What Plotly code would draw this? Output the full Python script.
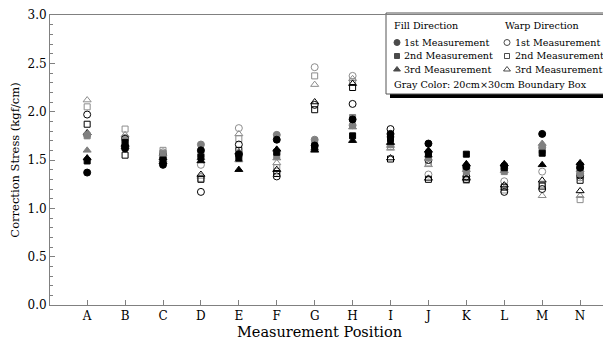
import plotly.graph_objects as go

positions = ["A", "B", "C", "D", "E", "F", "G", "H", "I", "J", "K", "L", "M", "N"]

# Fill direction, black (filled markers)
fill_black_1st = [1.37, 1.62, 1.45, 1.60, 1.56, 1.71, 1.65, 1.92, 1.77, 1.67, 1.43, 1.44, 1.77, 1.42]
fill_black_2nd = [1.49, 1.68, 1.50, 1.53, 1.52, 1.58, 1.63, 1.75, 1.72, 1.56, 1.56, 1.42, 1.57, 1.44]
fill_black_3rd = [1.52, 1.66, 1.48, 1.49, 1.40, 1.61, 1.60, 1.70, 1.68, 1.60, 1.46, 1.46, 1.45, 1.47]
# Fill direction, gray (20cm x 30cm boundary box)
fill_gray_1st = [1.76, 1.64, 1.54, 1.66, 1.57, 1.76, 1.71, 1.86, 1.74, 1.58, 1.41, 1.41, 1.63, 1.36]
fill_gray_2nd = [1.75, 1.70, 1.57, 1.56, 1.56, 1.55, 1.66, 1.94, 1.70, 1.52, 1.38, 1.38, 1.60, 1.38]
fill_gray_3rd = [1.60, 1.67, 1.50, 1.52, 1.50, 1.52, 1.62, 1.84, 1.65, 1.55, 1.40, 1.39, 1.67, 1.40]
# Warp direction, black (open markers)
warp_black_1st = [1.97, 1.72, 1.55, 1.17, 1.66, 1.33, 2.07, 2.08, 1.82, 1.50, 1.33, 1.17, 1.20, 1.34]
warp_black_2nd = [1.87, 1.55, 1.53, 1.30, 1.60, 1.36, 2.02, 2.25, 1.51, 1.30, 1.30, 1.22, 1.23, 1.29]
warp_black_3rd = [1.78, 1.64, 1.52, 1.35, 1.58, 1.40, 2.10, 2.29, 1.52, 1.31, 1.31, 1.24, 1.29, 1.18]
# Warp direction, gray (20cm x 30cm boundary box)
warp_gray_1st = [1.76, 1.73, 1.58, 1.45, 1.83, 1.38, 2.46, 2.37, 1.66, 1.35, 1.30, 1.28, 1.38, 1.32]
warp_gray_2nd = [2.05, 1.82, 1.60, 1.31, 1.72, 1.42, 2.37, 2.31, 1.64, 1.47, 1.29, 1.19, 1.25, 1.09]
warp_gray_3rd = [2.12, 1.76, 1.56, 1.33, 1.77, 1.47, 2.28, 2.34, 1.62, 1.45, 1.32, 1.21, 1.13, 1.13]

BLACK = "#000000"
GRAY = "#808080"
GRAY_LINE = "#8c8c8c"
FONT = "DejaVu Serif"

xidx = list(range(len(positions)))

series = [
    (warp_gray_1st, "circle-open", GRAY_LINE, 7),
    (warp_gray_2nd, "square-open", GRAY_LINE, 6),
    (warp_gray_3rd, "triangle-up-open", GRAY_LINE, 7),
    (warp_black_1st, "circle-open", BLACK, 7),
    (warp_black_2nd, "square-open", BLACK, 6),
    (warp_black_3rd, "triangle-up-open", BLACK, 7),
    (fill_gray_1st, "circle", GRAY, 7),
    (fill_gray_2nd, "square", GRAY, 6),
    (fill_gray_3rd, "triangle-up", GRAY, 7),
    (fill_black_1st, "circle", BLACK, 7),
    (fill_black_2nd, "square", BLACK, 6),
    (fill_black_3rd, "triangle-up", BLACK, 7),
]

fig = go.Figure()
for vals, sym, col, sz in series:
    fig.add_trace(go.Scatter(
        x=xidx, y=vals, mode="markers",
        marker=dict(symbol=sym, color=col, size=sz, line=dict(color=col, width=1)),
        showlegend=False, hoverinfo="skip",
    ))

# Page has an 8px body margin: plot area spans window px x 50..604, y 15..305
def px_x(p):
    return (p - 50) / 554.0

def px_y(p):
    return (305 - p) / 290.0

leg_rows = [42.5, 56.0, 69.5]
leg_labels = ["1st Measurement", "2nd Measurement", "3rd Measurement"]
leg_fill_syms = ["circle", "square", "triangle-up"]
leg_warp_syms = ["circle-open", "square-open", "triangle-up-open"]
leg_sizes = [6, 5, 6]

fig.add_trace(go.Scatter(
    x=[px_x(397)] * 3, y=[px_y(r) for r in leg_rows], xaxis="x2", yaxis="y2",
    mode="markers", cliponaxis=False,
    marker=dict(symbol=leg_fill_syms, color=BLACK, size=leg_sizes, line=dict(color=BLACK, width=1)),
    showlegend=False, hoverinfo="skip",
))
fig.add_trace(go.Scatter(
    x=[px_x(507)] * 3, y=[px_y(r) for r in leg_rows], xaxis="x2", yaxis="y2",
    mode="markers", cliponaxis=False,
    marker=dict(symbol=leg_warp_syms, color=BLACK, size=leg_sizes, line=dict(color=BLACK, width=1)),
    showlegend=False, hoverinfo="skip",
))

shapes = [
    # shadow
    dict(type="rect", xref="paper", yref="paper",
         x0=px_x(390), x1=px_x(609), y0=px_y(98), y1=px_y(17),
         fillcolor="black", line=dict(width=0), layer="below"),
    # box
    dict(type="rect", xref="paper", yref="paper",
         x0=px_x(386), x1=px_x(605), y0=px_y(94), y1=px_y(13),
         fillcolor="white", line=dict(color="#555555", width=1), layer="below"),
]

annots = []
lf = dict(family=FONT, size=9.6, color="black")
annots.append(dict(x=px_x(393), y=px_y(25.5), text="Fill Direction"))
annots.append(dict(x=px_x(504), y=px_y(25.5), text="Warp Direction"))
for r, lab in zip(leg_rows, leg_labels):
    annots.append(dict(x=px_x(403), y=px_y(r), text=lab))
    annots.append(dict(x=px_x(514), y=px_y(r), text=lab))
annots.append(dict(x=px_x(393), y=px_y(84), text="Gray Color: 20cm\u00d730cm Boundary Box"))
for a in annots:
    a.update(xref="paper", yref="paper", xanchor="left", yanchor="middle",
             showarrow=False, font=lf, borderpad=0)
# x axis title
annots.append(dict(x=px_x(319), y=px_y(332), xref="paper", yref="paper",
                   xanchor="center", yanchor="middle", showarrow=False, borderpad=0,
                   text="Measurement Position", font=dict(family=FONT, size=14.5, color="black")))

axis_col = "#808080"
fig.update_layout(
    width=603, height=334,
    margin=dict(l=42, r=7, t=7, b=37),
    paper_bgcolor="white", plot_bgcolor="white",
    font=dict(family=FONT, color="black"),
    xaxis=dict(
        range=[-0.98, 13.63], tickmode="array", tickvals=xidx, ticktext=positions,
        showgrid=False, zeroline=False, showline=True, linecolor=axis_col, linewidth=1,
        mirror=True, ticks="inside", ticklen=5, tickcolor=axis_col, automargin=False,
        tickfont=dict(family=FONT, size=12, color="black"),
    ),
    yaxis=dict(
        range=[0, 3.0], dtick=0.5, tickformat=".1f",
        showgrid=False, zeroline=False, showline=True, linecolor=axis_col, linewidth=1,
        mirror=True, ticks="inside", ticklen=5, tickcolor=axis_col, automargin=False,
        minor=dict(dtick=0.1, ticks="inside", ticklen=3, tickcolor=axis_col),
        tickfont=dict(family=FONT, size=12, color="black"),
        title=dict(text="Correction Stress (kgf/cm)", font=dict(family=FONT, size=11.5, color="black"), standoff=6),
    ),
    xaxis2=dict(domain=[0, 1], range=[0, 1], overlaying="x", anchor="y2", visible=False),
    yaxis2=dict(domain=[0, 1], range=[0, 1], overlaying="y", anchor="x2", visible=False),
    shapes=shapes,
    annotations=annots,
)

fig.write_html("out.html")
